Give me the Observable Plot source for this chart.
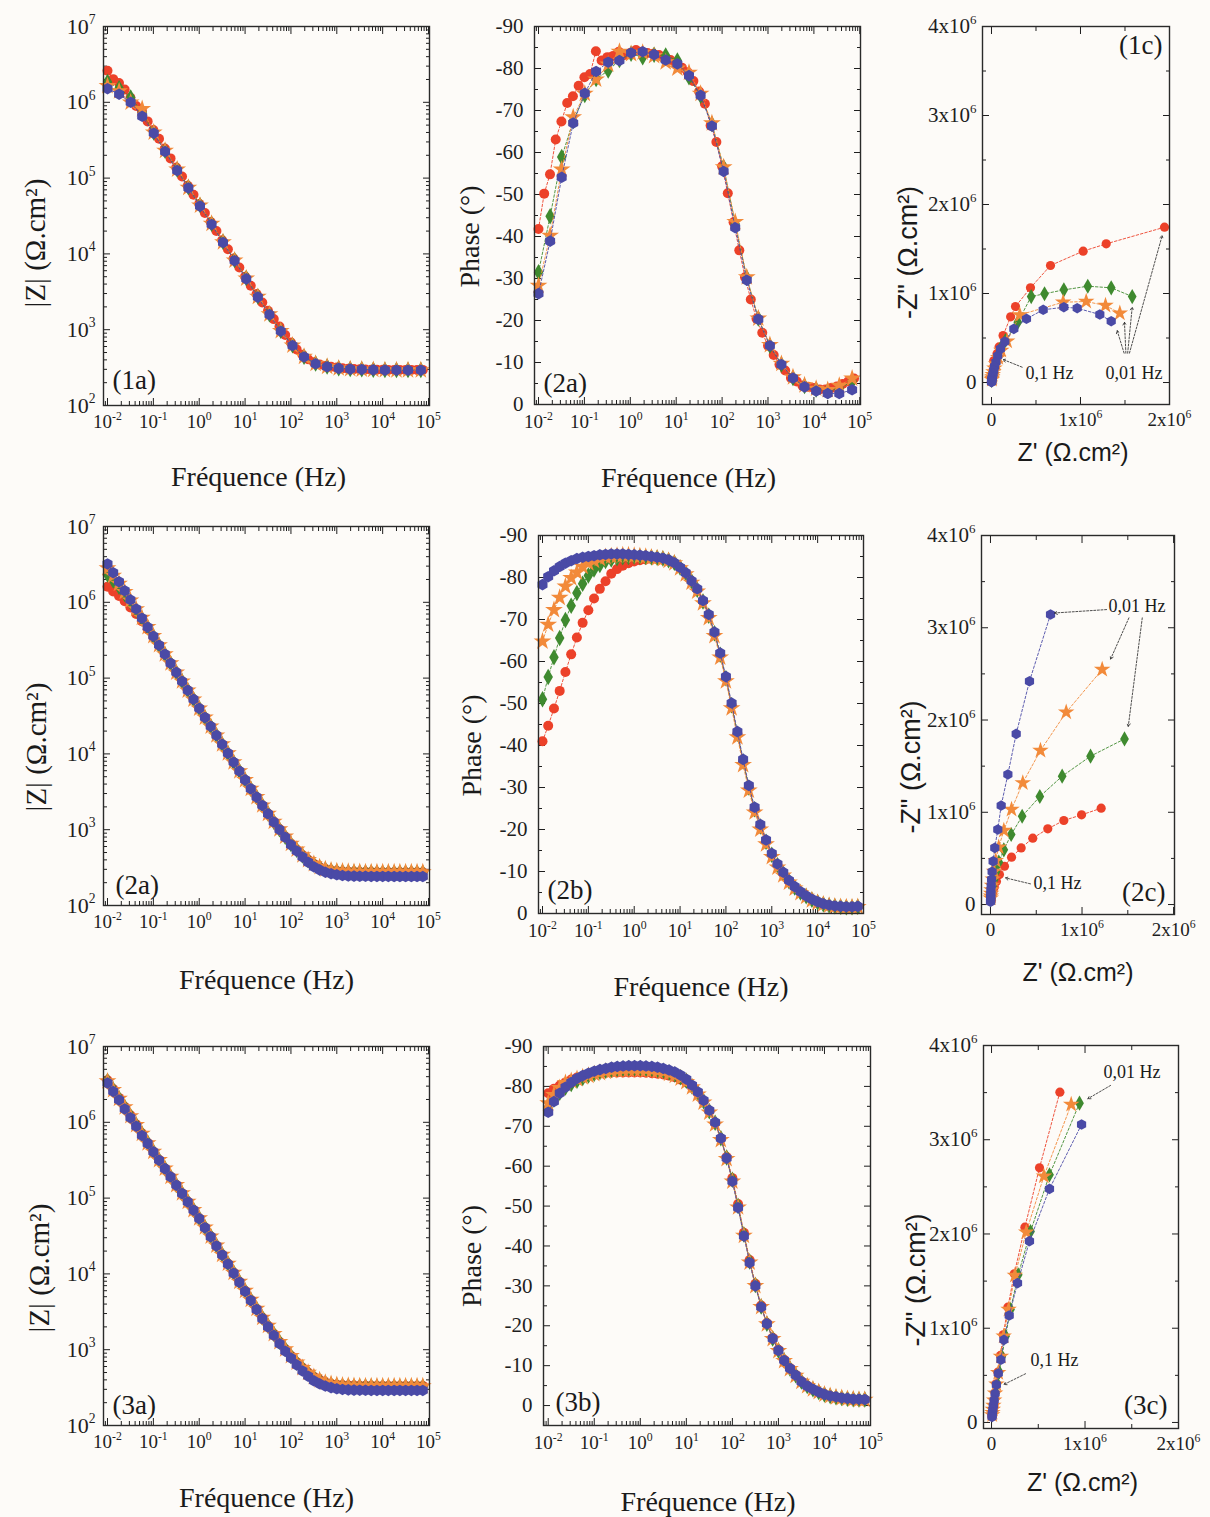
<!DOCTYPE html>
<html><head><meta charset="utf-8">
<script src="https://cdn.jsdelivr.net/npm/d3@7"></script>
<script src="https://cdn.jsdelivr.net/npm/@observablehq/plot@0.6"></script>
<style>
html,body{margin:0;padding:0;background:#fdfbf8;}
#fig{position:relative;width:1210px;height:1517px;overflow:hidden;background:#fdfbf8;}
#fig svg{position:absolute;overflow:visible;}
</style></head><body><div id="fig"></div>
<script>
// ---------- frequencies (Hz) ----------
const freq8 = [0.01,0.0133,0.0178,0.0237,0.0316,0.0422,0.0562,0.075,0.1,0.133,0.178,0.237,0.316,0.422,0.562,0.75,1,1.33,1.78,2.37,3.16,4.22,5.62,7.5,10,13.3,17.8,23.7,31.6,42.2,56.2,75,100,133,178,237,316,422,562,750,1000,1330,1780,2370,3160,4220,5620,7500,10000,13300,17800,23700,31600,42200,56200,75000];
const freq4 = [0.01,0.0179,0.032,0.057,0.102,0.18,0.33,0.58,1.04,1.86,3.3,5.9,10.6,19,34,60,108,193,345,615,1100,1960,3500,6250,11200,20000,35700,68000];

// ---------- row 1 : |Z| and phase ----------
const z1Red = [2.61e6,2.02e6,1.80e6,1.47e6,1.15e6,8.96e5,7.74e5,5.6e5,4.3e5,3.3e5,2.45e5,1.82e5,1.38e5,1.05e5,7.9e4,6.03e4,4.57e4,3.47e4,2.63e4,2.0e4,1.51e4,1.15e4,8.71e3,6.61e3,5.01e3,3.8e3,2.95e3,2.29e3,1.78e3,1.38e3,1.1e3,851,676,550,468,407,372,347,331,324,316,309,305,302,300,298,297,296,296,295,295,295,295,295,295,295];
const ph1Red = [-41.8,-50.2,-54.8,-63.1,-67.4,-71.8,-73.4,-75.9,-77.9,-78.7,-84.1,-81.9,-82.7,-83.0,-84.0,-83.2,-83.7,-84.4,-84.0,-83.7,-83.5,-83.2,-82.5,-82.0,-81.1,-80.2,-79.1,-77.0,-74.5,-71.6,-66.4,-62.5,-56.7,-50.3,-43.4,-36.7,-30.3,-25.0,-20.4,-17.1,-14.0,-11.8,-9.5,-8.1,-6.3,-5.5,-4.5,-4.2,-3.9,-3.6,-3.6,-3.9,-4.3,-4.9,-5.5,-6.2];
const z1Green = [1.85e6,1.53e6,1.16e6,7.4e5,4.0e5,2.3e5,1.3e5,7.6e4,4.4e4,2.5e4,1.45e4,8.3e3,4.8e3,2.75e3,1.6e3,970,625,440,358,326,311,304,300,297,295,294,294,294];
const ph1Green = [-31.5,-44.8,-58.9,-67.5,-73.7,-77.5,-79.5,-82.0,-83.5,-82.7,-83.3,-83.1,-81.9,-77.9,-73.5,-66.8,-56.5,-43.0,-30.2,-20.5,-14.0,-9.5,-6.3,-4.4,-3.6,-3.2,-3.8,-5.5];
const z1Orange = [1.64e6,1.40e6,1.0e6,8.2e5,4.0e5,2.3e5,1.3e5,7.5e4,4.35e4,2.5e4,1.43e4,8.2e3,4.75e3,2.72e3,1.6e3,965,622,440,357,325,310,303,299,296,294,293,293,293];
const ph1Orange = [-28.3,-40.2,-56.0,-68.4,-74.0,-77.4,-81.0,-84.0,-83.5,-83.8,-83.0,-81.5,-80.0,-79.0,-74.0,-67.0,-56.5,-43.5,-30.3,-20.5,-14.2,-9.7,-6.5,-4.6,-3.8,-3.5,-4.5,-6.2];
const z1Blue = [1.51e6,1.28e6,1.0e6,6.53e5,3.91e5,2.24e5,1.26e5,7.41e4,4.27e4,2.45e4,1.41e4,8.13e3,4.68e3,2.69e3,1.58e3,955,617,437,355,324,309,302,299,295,293,292,292,292];
const ph1Blue = [-26.4,-38.9,-54.1,-67.0,-74.1,-79.3,-81.5,-81.9,-83.7,-84.0,-83.3,-82.0,-81.1,-78.3,-73.6,-66.3,-55.5,-42.1,-29.6,-20.3,-14.0,-9.5,-6.3,-4.2,-3.2,-2.6,-2.6,-3.5];

// ---------- row 2 ----------
const z2Red = [1.60e6,1.39e6,1.21e6,1.03e6,8.55e5,6.99e5,5.62e5,4.42e5,3.45e5,2.70e5,2.06e5,1.57e5,1.19e5,9.08e4,6.90e4,5.25e4,3.99e4,3.03e4,2.31e4,1.76e4,1.34e4,1.02e4,7.78e3,5.94e3,4.54e3,3.47e3,2.70e3,2.10e3,1.63e3,1.28e3,1.02e3,815,655,548,462,400,354,322,302,291,285,281,279,278,277,276,276,275,275,275,275,275,275,275,275,275];
const z2Green = [2.32e6,1.94e6,1.60e6,1.29e6,1.02e6,7.92e5,6.11e5,4.68e5,3.57e5,2.71e5,2.06e5,1.57e5,1.19e5,9.08e4,6.90e4,5.25e4,3.99e4,3.03e4,2.31e4,1.76e4,1.34e4,1.02e4,7.78e3,5.94e3,4.54e3,3.47e3,2.70e3,2.10e3,1.63e3,1.27e3,1.01e3,810,650,544,458,396,350,318,298,287,281,277,275,274,273,272,272,271,271,271,271,271,271,271,271,271];
const z2Orange = [2.82e6,2.24e6,1.76e6,1.37e6,1.06e6,8.15e5,6.27e5,4.75e5,3.60e5,2.73e5,2.07e5,1.57e5,1.19e5,9.08e4,6.90e4,5.25e4,3.99e4,3.03e4,2.31e4,1.76e4,1.34e4,1.02e4,7.78e3,5.94e3,4.54e3,3.47e3,2.70e3,2.10e3,1.63e3,1.28e3,1.02e3,815,655,548,462,400,354,322,302,291,285,281,279,278,277,276,276,275,275,275,275,275,275,275,275,275];
const z2Blue = [3.21e6,2.46e6,1.87e6,1.42e6,1.08e6,8.17e5,6.17e5,4.70e5,3.57e5,2.72e5,2.07e5,1.57e5,1.19e5,9.08e4,6.90e4,5.25e4,3.99e4,3.03e4,2.31e4,1.76e4,1.34e4,1.02e4,7.78e3,5.94e3,4.54e3,3.47e3,2.69e3,2.09e3,1.62e3,1.26e3,1.0e3,794,631,525,437,372,324,295,275,263,254,248,245,244,243,243,242,242,242,242,241,241,241,241,241,241];
const ph2Red = [-41.0,-44.7,-48.8,-53.0,-57.5,-61.7,-65.7,-69.2,-72.2,-75.0,-77.3,-79.1,-80.9,-82.0,-82.8,-83.4,-83.8,-84.1,-84.3,-84.4,-84.4,-84.3,-84.0,-83.4,-82.3,-81.0,-79.1,-77.1,-74.3,-70.9,-66.7,-61.6,-56.0,-49.6,-42.8,-36.2,-30.0,-24.8,-20.7,-17.1,-14.0,-11.5,-9.5,-7.7,-6.2,-5.0,-4.1,-3.3,-2.7,-2.2,-1.9,-1.7,-1.6,-1.5,-1.5,-1.6];
const ph2Green = [-51.0,-56.3,-61.0,-65.6,-69.9,-73.3,-76.3,-78.5,-80.5,-81.9,-83.0,-83.9,-84.3,-84.6,-84.8,-84.9,-85.0,-85.0,-84.9,-84.8,-84.7,-84.5,-84.1,-83.5,-82.4,-81.0,-79.1,-77.1,-74.3,-70.9,-66.7,-61.6,-56.0,-49.6,-42.8,-36.2,-30.0,-24.8,-20.7,-17.1,-14.0,-11.5,-9.5,-7.7,-6.2,-5.0,-4.1,-3.3,-2.7,-2.2,-1.9,-1.7,-1.6,-1.5,-1.5,-1.6];
const ph2Orange = [-64.8,-68.8,-72.3,-75.2,-77.9,-79.9,-81.2,-82.6,-83.4,-84.0,-84.5,-84.9,-85.1,-85.2,-85.3,-85.3,-85.2,-85.1,-85.0,-84.8,-84.6,-84.4,-84.0,-83.4,-82.2,-80.8,-78.8,-76.7,-73.9,-70.4,-66.1,-61.0,-55.3,-48.9,-42.0,-35.4,-29.3,-24.1,-20.0,-16.5,-13.5,-11.0,-9.1,-7.4,-6.0,-4.9,-4.0,-3.2,-2.6,-2.2,-1.9,-1.7,-1.6,-1.5,-1.5,-1.6];
const ph2Blue = [-78.3,-80.2,-81.6,-82.6,-83.4,-84.0,-84.5,-84.8,-85.0,-85.2,-85.4,-85.5,-85.6,-85.6,-85.6,-85.5,-85.4,-85.3,-85.2,-85.0,-84.8,-84.6,-84.2,-83.5,-82.4,-81.1,-79.2,-77.3,-74.5,-71.2,-67.0,-62.0,-56.4,-50.1,-43.3,-36.7,-30.5,-25.3,-21.2,-17.5,-14.3,-11.8,-9.8,-7.9,-6.4,-5.2,-4.2,-3.4,-2.8,-2.3,-2.0,-1.8,-1.7,-1.6,-1.6,-1.7];

// ---------- row 3 ----------
const z3Red = [3.58e6,2.75e6,2.10e6,1.60e6,1.24e6,9.38e5,7.17e5,5.38e5,4.13e5,3.2e5,2.48e5,1.93e5,1.5e5,1.16e5,9.0e4,7.0e4,5.43e4,4.12e4,3.13e4,2.37e4,1.8e4,1.37e4,1.04e4,7.9e3,6.0e3,4.57e3,3.47e3,2.65e3,2.07e3,1.62e3,1.27e3,1.02e3,830,685,580,500,440,400,372,356,346,341,338,336,335,334,334,333,333,333,333,333,333,333,333,333];
const z3Green = [3.52e6,2.70e6,2.07e6,1.59e6,1.22e6,9.28e5,7.09e5,5.41e5,4.12e5,3.18e5,2.47e5,1.92e5,1.49e5,1.16e5,9.0e4,7.0e4,5.43e4,4.12e4,3.13e4,2.37e4,1.8e4,1.37e4,1.04e4,7.9e3,6.0e3,4.57e3,3.47e3,2.65e3,2.07e3,1.62e3,1.27e3,1.02e3,825,678,572,492,432,392,364,348,338,333,330,328,327,326,326,325,325,325,325,325,325,325,325,325];
const z3Orange = [3.48e6,2.67e6,2.05e6,1.58e6,1.21e6,9.24e5,7.07e5,5.32e5,4.1e5,3.18e5,2.47e5,1.92e5,1.49e5,1.16e5,9.0e4,7.0e4,5.43e4,4.12e4,3.13e4,2.37e4,1.8e4,1.37e4,1.04e4,7.9e3,6.0e3,4.57e3,3.47e3,2.65e3,2.07e3,1.62e3,1.27e3,1.02e3,828,682,577,497,437,397,369,353,343,338,335,333,332,331,331,330,330,330,330,330,330,330,330,330];
const z3Blue = [3.30e6,2.55e6,1.97e6,1.50e6,1.15e6,8.87e5,6.71e5,5.25e5,4.07e5,3.16e5,2.45e5,1.91e5,1.48e5,1.15e5,8.91e4,6.92e4,5.37e4,4.07e4,3.09e4,2.34e4,1.78e4,1.35e4,1.02e4,7.76e3,5.89e3,4.47e3,3.39e3,2.57e3,2.0e3,1.55e3,1.20e3,955,776,631,525,447,389,355,331,316,305,299,295,293,292,291,290,290,290,290,290,290,290,290,290,290];
const ph3Red = [-78.3,-79.4,-80.2,-81.0,-81.7,-82.2,-82.6,-82.9,-83.1,-83.3,-83.4,-83.5,-83.5,-83.5,-83.5,-83.5,-83.5,-83.4,-83.3,-83.2,-83.0,-82.7,-82.3,-81.7,-81.0,-79.8,-78.2,-76.2,-73.7,-70.7,-66.9,-62.3,-57.0,-50.5,-43.3,-36.5,-30.5,-25.1,-20.7,-17.0,-14.0,-11.5,-9.4,-7.7,-6.1,-5.0,-4.1,-3.4,-2.8,-2.4,-2.1,-1.9,-1.7,-1.6,-1.5,-1.5];
const ph3Green = [-74.5,-76.7,-78.4,-79.7,-80.6,-81.4,-82.1,-82.7,-83.2,-83.6,-83.9,-84.2,-84.4,-84.5,-84.6,-84.6,-84.6,-84.5,-84.4,-84.2,-83.9,-83.5,-83.0,-82.3,-81.4,-80.0,-78.3,-76.3,-73.8,-70.9,-67.0,-62.2,-56.6,-50.0,-42.9,-36.1,-30.2,-24.8,-20.5,-16.8,-13.8,-11.3,-9.3,-7.6,-6.0,-4.9,-4.1,-3.4,-2.8,-2.4,-2.1,-1.9,-1.7,-1.6,-1.5,-1.5];
const ph3Orange = [-75.8,-77.9,-79.6,-80.9,-81.4,-81.9,-82.3,-82.7,-83.1,-83.4,-83.7,-83.9,-84.0,-84.1,-84.2,-84.2,-84.2,-84.1,-84.0,-83.8,-83.6,-83.2,-82.7,-82.0,-81.1,-79.8,-78.0,-76.0,-73.5,-70.5,-66.6,-61.8,-56.2,-49.7,-42.6,-35.9,-30.0,-24.7,-20.4,-16.7,-13.7,-11.2,-9.2,-7.5,-6.0,-4.9,-4.1,-3.4,-2.8,-2.4,-2.1,-1.9,-1.7,-1.6,-1.5,-1.5];
const ph3Blue = [-73.5,-76.2,-78.3,-79.8,-81.0,-82.0,-82.7,-83.3,-83.8,-84.2,-84.5,-84.8,-85.0,-85.1,-85.2,-85.2,-85.2,-85.1,-85.0,-84.8,-84.5,-84.1,-83.6,-82.8,-81.8,-80.3,-78.6,-76.5,-74.0,-71.0,-67.0,-62.0,-56.2,-49.6,-42.5,-35.8,-30.0,-24.7,-20.5,-16.8,-13.8,-11.3,-9.3,-7.6,-6.0,-4.9,-4.1,-3.4,-2.8,-2.4,-2.2,-1.9,-1.8,-1.6,-1.6,-1.5];

// ---------- Nyquist: Z' and -Z'' (ohm.cm2), from 0.01 Hz upward ----------
const nq1RedRe = [1.944e6,1.289e6,1.03e6,0.663e6,0.438e6,0.27e6,0.215e6,0.13e6,0.085e6,0.062e6,0.025e6,0.026e6,0.0175e6,0.013e6,0.008e6,0.007e6,0.005e6,0.0035e6,0.0025e6,0.0015e6,0.001e6,0.0006e6];
const nq1RedIm = [1.745e6,1.558e6,1.476e6,1.315e6,1.064e6,0.854e6,0.738e6,0.528e6,0.40e6,0.324e6,0.244e6,0.18e6,0.137e6,0.104e6,0.077e6,0.06e6,0.045e6,0.034e6,0.026e6,0.02e6,0.015e6,0.011e6];
const nq1GreenRe = [1.581e6,1.345e6,1.082e6,0.813e6,0.596e6,0.446e6,0.296e6,0.157e6,0.10e6,0.07e6,0.045e6,0.03e6,0.02e6,0.013e6,0.008e6,0.005e6,0.003e6,0.002e6];
const nq1GreenIm = [0.966e6,1.064e6,1.082e6,1.041e6,0.997e6,0.966e6,0.678e6,0.472e6,0.38e6,0.30e6,0.23e6,0.17e6,0.125e6,0.09e6,0.065e6,0.047e6,0.034e6,0.024e6];
const nq1OrangeRe = [1.442e6,1.281e6,1.064e6,0.805e6,0.318e6,0.176e6,0.11e6,0.075e6,0.05e6,0.033e6,0.022e6,0.014e6,0.009e6,0.006e6,0.004e6];
const nq1OrangeIm = [0.779e6,0.865e6,0.91e6,0.902e6,0.76e6,0.464e6,0.36e6,0.28e6,0.21e6,0.16e6,0.12e6,0.088e6,0.064e6,0.046e6,0.033e6];
const nq1BlueRe = [1.345e6,1.217e6,0.963e6,0.813e6,0.581e6,0.393e6,0.251e6,0.15e6,0.101e6,0.07e6,0.05e6,0.035e6,0.025e6,0.018e6,0.012e6,0.008e6,0.005e6,0.003e6,0.002e6,0.001e6,0.0006e6,0.0003e6];
const nq1BlueIm = [0.689e6,0.764e6,0.835e6,0.846e6,0.817e6,0.716e6,0.603e6,0.46e6,0.378e6,0.30e6,0.23e6,0.18e6,0.135e6,0.10e6,0.075e6,0.055e6,0.04e6,0.03e6,0.02e6,0.013e6,0.008e6,0.005e6];

const nq2RedRe = [1.209e6,0.995e6,0.801e6,0.626e6,0.462e6,0.335e6,0.23e6,0.153e6,0.098e6,0.065e6,0.042e6,0.028e6,0.018e6,0.012e6,0.008e6,0.005e6,0.003e6];
const nq2RedIm = [1.044e6,0.972e6,0.911e6,0.821e6,0.719e6,0.614e6,0.513e6,0.415e6,0.325e6,0.25e6,0.19e6,0.145e6,0.11e6,0.083e6,0.063e6,0.047e6,0.035e6];
const nq2GreenRe = [1.464e6,1.093e6,0.783e6,0.539e6,0.346e6,0.226e6,0.146e6,0.091e6,0.06e6,0.04e6,0.026e6,0.017e6,0.011e6,0.007e6,0.005e6,0.003e6];
const nq2GreenIm = [1.795e6,1.608e6,1.391e6,1.171e6,0.957e6,0.759e6,0.593e6,0.459e6,0.355e6,0.27e6,0.205e6,0.157e6,0.12e6,0.09e6,0.069e6,0.052e6];
const nq2OrangeRe = [1.22e6,0.827e6,0.546e6,0.353e6,0.23e6,0.146e6,0.09e6,0.058e6,0.038e6,0.025e6,0.016e6,0.011e6,0.007e6,0.005e6,0.003e6];
const nq2OrangeIm = [2.547e6,2.084e6,1.669e6,1.319e6,1.03e6,0.802e6,0.621e6,0.475e6,0.36e6,0.275e6,0.208e6,0.158e6,0.12e6,0.091e6,0.069e6];
const nq2BlueRe = [0.656e6,0.426e6,0.281e6,0.19e6,0.117e6,0.08e6,0.047e6,0.029e6,0.018e6,0.012e6,0.008e6,0.005e6,0.004e6,0.003e6,0.002e6,0.0015e6,0.001e6,0.0007e6];
const nq2BlueIm = [3.144e6,2.42e6,1.85e6,1.41e6,1.073e6,0.813e6,0.614e6,0.469e6,0.356e6,0.272e6,0.207e6,0.157e6,0.12e6,0.09e6,0.069e6,0.052e6,0.04e6,0.03e6];

const nq3RedRe = [0.731e6,0.513e6,0.357e6,0.243e6,0.175e6,0.125e6,0.096e6,0.068e6,0.05e6,0.037e6,0.027e6,0.02e6,0.014e6,0.01e6,0.007e6,0.005e6];
const nq3RedIm = [3.505e6,2.702e6,2.072e6,1.577e6,1.223e6,0.93e6,0.711e6,0.534e6,0.41e6,0.315e6,0.24e6,0.183e6,0.14e6,0.107e6,0.082e6,0.062e6];
const nq3GreenRe = [0.941e6,0.62e6,0.417e6,0.285e6,0.203e6,0.15e6,0.11e6,0.082e6,0.06e6,0.044e6,0.032e6,0.023e6,0.016e6,0.011e6,0.008e6];
const nq3GreenIm = [3.388e6,2.628e6,2.026e6,1.567e6,1.199e6,0.916e6,0.70e6,0.535e6,0.41e6,0.314e6,0.24e6,0.183e6,0.14e6,0.107e6,0.082e6];
const nq3OrangeRe = [0.852e6,0.56e6,0.371e6,0.25e6,0.182e6,0.13e6,0.1e6,0.071e6,0.052e6,0.038e6,0.028e6,0.02e6,0.014e6,0.01e6,0.007e6];
const nq3OrangeIm = [3.374e6,2.613e6,2.019e6,1.56e6,1.2e6,0.915e6,0.70e6,0.527e6,0.405e6,0.31e6,0.236e6,0.18e6,0.138e6,0.105e6,0.08e6];
const nq3BlueRe = [0.963e6,0.62e6,0.406e6,0.278e6,0.189e6,0.132e6,0.1e6,0.072e6,0.052e6,0.038e6,0.028e6,0.02e6,0.014e6,0.01e6,0.007e6,0.005e6];
const nq3BlueIm = [3.162e6,2.479e6,1.924e6,1.478e6,1.135e6,0.877e6,0.665e6,0.52e6,0.40e6,0.306e6,0.234e6,0.178e6,0.136e6,0.104e6,0.079e6,0.06e6];

// ---------- Nyquist annotations (data units) ----------
const nq1Notes = [{label:"0,1 Hz", x:0.382e6, y:0.10e6},{label:"0,01 Hz", x:1.281e6, y:0.10e6}];
const nq1Arrows = [{x1:0.345e6,y1:0.172e6,x2:0.131e6,y2:0.258e6},{x1:1.49e6,y1:0.33e6,x2:1.412e6,y2:0.584e6},{x1:1.51e6,y1:0.33e6,x2:1.494e6,y2:0.678e6},{x1:1.53e6,y1:0.33e6,x2:1.581e6,y2:0.846e6},{x1:1.55e6,y1:0.33e6,x2:1.918e6,y2:1.652e6}];
const nq2Notes = [{label:"0,01 Hz", x:1.29e6, y:3.23e6},{label:"0,1 Hz", x:0.47e6, y:0.228e6}];
const nq2Arrows = [{x1:1.268e6,y1:3.197e6,x2:0.70e6,y2:3.16e6},{x1:1.512e6,y1:3.107e6,x2:1.312e6,y2:2.66e6},{x1:1.658e6,y1:3.107e6,x2:1.505e6,y2:1.93e6},{x1:0.437e6,y1:0.224e6,x2:0.164e6,y2:0.289e6}];
const nq3Notes = [{label:"0,01 Hz", x:1.198e6, y:3.717e6},{label:"0,1 Hz", x:0.417e6, y:0.658e6}];
const nq3Arrows = [{x1:1.273e6,y1:3.576e6,x2:1.03e6,y2:3.435e6},{x1:0.364e6,y1:0.517e6,x2:0.132e6,y2:0.403e6}];

// ---------- ticks ----------
const freqMajor = [0.01,0.1,1,10,100,1000,10000,100000];
const zMajor = [1e2,1e3,1e4,1e5,1e6,1e7];
const phaseMajor = [0,-10,-20,-30,-40,-50,-60,-70,-80,-90];
const phaseMinor = [-5,-15,-25,-35,-45,-55,-65,-75,-85];
const nqXMajor = [0,1e6,2e6], nqXMinor = [0.5e6,1.5e6];
const nqYMajor = [0,1e6,2e6,3e6,4e6], nqYMinor = [0.5e6,1.5e6,2.5e6,3.5e6];

// ---------- style ----------
const COLORS = {red:"#ec4129", green:"#3f8a2f", orange:"#f28a3a", blue:"#4a4aa6"};
const SYMBOLS = {red:"circle", green:"diamond", orange:"star", blue:"hexagon"};
const SERIF = '"Liberation Serif","Times New Roman",serif';
const SANS = '"Liberation Sans",Arial,sans-serif';
const fig = document.getElementById("fig");

const pts = (xs, ys) => xs.map((x, i) => ({x, y: ys[i]}));
const logFmt = d => "10^" + Math.round(Math.log10(d));
const phFmt = d => String(d);
const nqFmt = d => d === 0 ? "0" : (d / 1e6) + "x10^6";
const logMinor = dom => d3.scaleLog().domain(dom).ticks().filter(t => Math.abs(Math.log10(t) - Math.round(Math.log10(t))) > 1e-6);

function seriesMarks(sets, r) {
  const m = [];
  for (const k of ["red","green","orange","blue"]) {
    if (!sets[k]) continue;
    m.push(Plot.line(sets[k], {x:"x", y:"y", stroke:COLORS[k], strokeWidth:0.9, strokeDasharray:"2.5,2"}));
    m.push(Plot.dot(sets[k], {x:"x", y:"y", fill:COLORS[k], stroke:"none", symbol:SYMBOLS[k], r: k === "orange" ? r + 0.6 : r}));
  }
  return m;
}

function axes(o) {
  const blank = {label:null, tickFormat:() => ""};
  return [
    Plot.axisX(o.xMinor, {anchor:"bottom", tickSize:-4, ...blank}),
    Plot.axisX(o.xMinor, {anchor:"top", tickSize:-4, ...blank}),
    Plot.axisX(o.xMajor, {anchor:"bottom", tickSize:-7, ...blank}),
    Plot.axisX(o.xMajor, {anchor:"top", tickSize:-7, ...blank}),
    Plot.axisY(o.yMinor, {anchor:"left", tickSize:-4, ...blank}),
    Plot.axisY(o.yMinor, {anchor:"right", tickSize:-4, ...blank}),
    Plot.axisY(o.yMajor, {anchor:"left", tickSize:-7, ...blank}),
    Plot.axisY(o.yMajor, {anchor:"right", tickSize:-7, ...blank}),
    Plot.axisX(o.xMajor, {anchor:"bottom", tickSize:0, tickPadding:o.xPad, tickFormat:o.xFmt, fontSize:o.xFont, fontFamily:SERIF, label:null}),
    Plot.axisY(o.yMajor, {anchor:"left", tickSize:0, tickPadding:o.yPad, tickFormat:o.yFmt, fontSize:o.yFont, fontFamily:SERIF, label:null})
  ];
}

const yTitle = (t, dx, dy, font, size) => Plot.text([t], {frameAnchor:"left", dx, dy, rotate:-90, textAnchor:"middle", lineAnchor:"middle", fontSize:size, fontFamily:font, fill:"#1a1a1a"});
const xTitle = (t, dx, dy, font, size) => Plot.text([t], {frameAnchor:"bottom", dx, dy, textAnchor:"middle", lineAnchor:"middle", fontSize:size, fontFamily:font, fill:"#1a1a1a"});
const tag = (t, anchor, dx, dy) => Plot.text([t], {frameAnchor:anchor, dx, dy, textAnchor: anchor.endsWith("right") ? "end" : "start", lineAnchor:"middle", fontSize:27, fontFamily:SERIF, fill:"#1a1a1a"});

function superscripts(svg) {
  const ns = "http://www.w3.org/2000/svg";
  svg.querySelectorAll("text").forEach(t => {
    const s = t.textContent; const i = s.indexOf("^");
    if (i < 0 || t.children.length) return;
    t.textContent = "";
    const a = document.createElementNS(ns, "tspan"); a.textContent = s.slice(0, i);
    const b = document.createElementNS(ns, "tspan"); b.textContent = s.slice(i + 1);
    b.setAttribute("font-size", "0.62em"); b.setAttribute("dy", "-0.7em");
    t.append(a, b);
  });
}

function panel(frame, x, y, marks) {
  const [L, R, T, B] = frame;
  const ml = 100, mt = 20, mr = 35, mb = 92;
  const svg = Plot.plot({
    width: R - L + ml + mr, height: B - T + mt + mb,
    marginLeft: ml, marginRight: mr, marginTop: mt, marginBottom: mb,
    style: {background:"transparent", fontFamily:SERIF, color:"#1e1e1e", overflow:"visible"},
    x: {...x, label:null}, y: {...y, label:null},
    marks: [...marks, Plot.frame({stroke:"#2a2a2a", strokeWidth:1.4})]
  });
  svg.style.left = (L - ml) + "px"; svg.style.top = (T - mt) + "px";
  superscripts(svg);
  fig.append(svg);
}

// ---- Bode |Z| panel
function bodeZ(frame, xDom, sets, tagText, tdx, tdy, yt, xt) {
  panel(frame, {type:"log", domain:xDom}, {type:"log", domain:[100, 1e7]}, [
    ...axes({xMajor:freqMajor, xMinor:logMinor(xDom), yMajor:zMajor, yMinor:logMinor([100,1e7]), xFmt:logFmt, yFmt:logFmt, xFont:19, yFont:22, xPad:9, yPad:8}),
    ...seriesMarks(sets, 5),
    tag(tagText, "bottom-left", tdx, tdy),
    yTitle("|Z| (Ω.cm²)", yt[0], yt[1], SERIF, 29),
    xTitle("Fréquence (Hz)", xt[0], xt[1], SERIF, 28)
  ]);
}
// ---- Bode phase panel
function bodePh(frame, xDom, yDom, sets, tagText, tdx, tdy, yt, xt) {
  panel(frame, {type:"log", domain:xDom}, {type:"linear", domain:yDom}, [
    ...axes({xMajor:freqMajor, xMinor:logMinor(xDom), yMajor:phaseMajor, yMinor:phaseMinor, xFmt:logFmt, yFmt:phFmt, xFont:19, yFont:21, xPad:10, yPad:11}),
    ...seriesMarks(sets, 5),
    tag(tagText, "bottom-left", tdx, tdy),
    yTitle("Phase (°)", yt[0], yt[1], SERIF, 28),
    xTitle("Fréquence (Hz)", xt[0], xt[1], SERIF, 28)
  ]);
}
// ---- Nyquist panel
function nyq(frame, xDom, yDom, sets, notes, arrows, tagText, tagAnchor, tdx, tdy, yt, xt) {
  panel(frame, {type:"linear", domain:xDom}, {type:"linear", domain:yDom}, [
    ...axes({xMajor:nqXMajor, xMinor:nqXMinor, yMajor:nqYMajor, yMinor:nqYMinor, xFmt:nqFmt, yFmt:nqFmt, xFont:19, yFont:21, xPad:8, yPad:6}),
    ...seriesMarks(sets, 4.6),
    Plot.arrow(arrows, {x1:"x1", y1:"y1", x2:"x2", y2:"y2", stroke:"#222", strokeWidth:0.8, strokeDasharray:"2,1.6", headLength:6}),
    Plot.text(notes, {x:"x", y:"y", text:"label", textAnchor:"start", lineAnchor:"middle", fontSize:18, fontFamily:SERIF, fill:"#1a1a1a"}),
    tag(tagText, tagAnchor, tdx, tdy),
    yTitle('-Z" (Ω.cm²)', yt[0], yt[1], SANS, 27),
    xTitle("Z' (Ω.cm²)", xt[0], xt[1], SANS, 25)
  ]);
}

const xDomA = [0.00818, 105000];

// Row 1
bodeZ([103,429,26,405], xDomA, {red:pts(freq8,z1Red), green:pts(freq4,z1Green), orange:pts(freq4,z1Orange), blue:pts(freq4,z1Blue)}, "(1a)", 9, -25, [-68,27], [-8,72]);
bodePh([534,860,26,404], [0.00818,103600], [0,-90], {red:pts(freq8,ph1Red), green:pts(freq4,ph1Green), orange:pts(freq4,ph1Orange), blue:pts(freq4,ph1Blue)}, "(2a)", 9, -21, [-64,21], [-9,74]);
nyq([982,1169,26,404], [-0.101e6,2e6], [-0.247e6,4e6], {red:pts(nq1RedRe,nq1RedIm), green:pts(nq1GreenRe,nq1GreenIm), orange:pts(nq1OrangeRe,nq1OrangeIm), blue:pts(nq1BlueRe,nq1BlueIm)}, nq1Notes, nq1Arrows, "(1c)", "top-right", -7, 19, [-74,37], [-3,48]);

// Row 2
bodeZ([103,429,526,905], xDomA, {red:pts(freq8,z2Red), green:pts(freq8,z2Green), orange:pts(freq8,z2Orange), blue:pts(freq8,z2Blue)}, "(2a)", 12, -20, [-67,31], [0,75]);
bodePh([538,863,535,913], [0.00818,1e5], [0,-90], {red:pts(freq8,ph2Red), green:pts(freq8,ph2Green), orange:pts(freq8,ph2Orange), blue:pts(freq8,ph2Blue)}, "(2b)", 9, -23, [-66,21], [0,74]);
nyq([981,1174,535,914], [-0.098e6,2.01e6], [-0.108e6,4e6], {red:pts(nq2RedRe,nq2RedIm), green:pts(nq2GreenRe,nq2GreenIm), orange:pts(nq2OrangeRe,nq2OrangeIm), blue:pts(nq2BlueRe,nq2BlueIm)}, nq2Notes, nq2Arrows, "(2c)", "bottom-right", -9, -22, [-70,42], [0,58]);

// Row 3
bodeZ([103,429,1046,1425], xDomA, {red:pts(freq8,z3Red), green:pts(freq8,z3Green), orange:pts(freq8,z3Orange), blue:pts(freq8,z3Blue)}, "(3a)", 9, -20, [-64,32], [0,73]);
bodePh([543,870,1046,1425], [0.0079,1e5], [5,-90], {red:pts(freq8,ph3Red), green:pts(freq8,ph3Green), orange:pts(freq8,ph3Orange), blue:pts(freq8,ph3Blue)}, "(3b)", 12, -23, [-71,20], [1,77]);
nyq([983,1178,1045,1428], [-0.086e6,2e6], [-0.064e6,4e6], {red:pts(nq3RedRe,nq3RedIm), green:pts(nq3GreenRe,nq3GreenIm), orange:pts(nq3OrangeRe,nq3OrangeIm), blue:pts(nq3BlueRe,nq3BlueIm)}, nq3Notes, nq3Arrows, "(3c)", "bottom-right", -11, -23, [-67,43], [1.5,54]);
</script></body></html>
